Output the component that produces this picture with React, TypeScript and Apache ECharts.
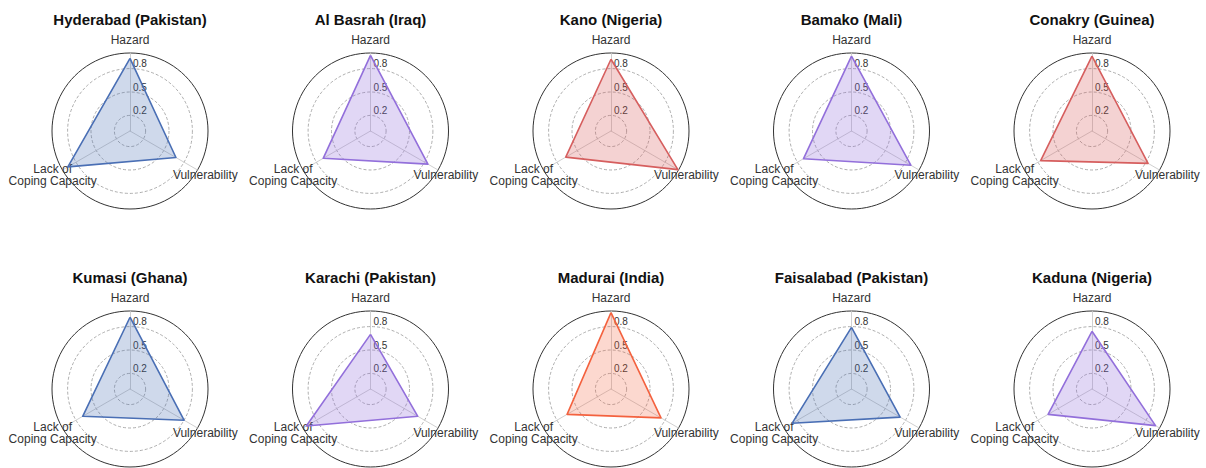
import React, { useEffect, useRef } from 'react';
import * as echarts from 'echarts';

const cities = [
  'Hyderabad (Pakistan)',
  'Al Basrah (Iraq)',
  'Kano (Nigeria)',
  'Bamako (Mali)',
  'Conakry (Guinea)',
  'Kumasi (Ghana)',
  'Karachi (Pakistan)',
  'Madurai (India)',
  'Faisalabad (Pakistan)',
  'Kaduna (Nigeria)',
];
const hazard = [0.93, 0.97, 0.92, 0.96, 0.96, 0.92, 0.7, 0.98, 0.79, 0.74];
const vulnerability = [0.68, 0.85, 0.99, 0.88, 0.83, 0.8, 0.7, 0.74, 0.72, 0.94];
const lackOfCoping = [0.92, 0.7, 0.67, 0.71, 0.76, 0.7, 0.95, 0.65, 0.88, 0.65];
const axisNames = ['Hazard', 'Vulnerability', 'Lack of\nCoping Capacity'];
const radialTicks = [0.2, 0.5, 0.8];
const cityTone = ['blue', 'purple', 'red', 'purple', 'red', 'blue', 'purple', 'tomato', 'blue', 'purple'];

const palette: Record<string, { line: string; fill: string }> = {
  blue: { line: '#4a6fb5', fill: 'rgba(74,111,181,0.38)' },
  purple: { line: '#9370db', fill: 'rgba(147,112,219,0.40)' },
  red: { line: '#d65f5f', fill: 'rgba(214,95,95,0.40)' },
  tomato: { line: '#f4623f', fill: 'rgba(244,98,63,0.36)' },
};

const FONT = '"Liberation Sans", Arial, Helvetica, sans-serif';
const COLS = 5;
const X0 = 130;
const DX = 240.5;
const Y0 = 131;
const DY = 258;
const R = 78;

export default function App() {
  const ref = useRef<HTMLDivElement>(null);
  useEffect(() => {
    document.body.style.margin = '0';
    const chart = echarts.init(ref.current!, null, { renderer: 'svg' });

    // grid circle colours for ticks 0, 0.1, ..., 1.0 (only 0.2, 0.5, 0.8 are drawn)
    const gridColors: string[] = [];
    for (let k = 0; k <= 10; k++) {
      const v = k / 10;
      gridColors.push(radialTicks.some((t) => Math.abs(t - v) < 1e-6) ? '#999999' : 'rgba(0,0,0,0)');
    }
    const tickFormatter = (v: number) => {
      const hit = radialTicks.find((t) => Math.abs(t - v) < 1e-6);
      return hit != null ? hit.toFixed(1) : '';
    };

    const radars: any[] = [];
    const outers: any[] = [];
    const titles: any[] = [];
    const series: any[] = [];

    cities.forEach((city, i) => {
      const cx = X0 + DX * (i % COLS);
      const cy = Y0 + DY * Math.floor(i / COLS);
      const tone = palette[cityTone[i]];

      radars.push({
        center: [cx, cy],
        radius: R,
        startAngle: 90,
        shape: 'circle',
        splitNumber: 10,
        indicator: [
          {
            name: axisNames[0],
            min: 0,
            max: 1,
            nameGap: 13,
            axisLabel: {
              show: true,
              formatter: tickFormatter,
              margin: -3,
              align: 'left',
              verticalAlign: 'bottom',
              fontSize: 10,
              color: '#333',
              fontFamily: FONT,
            },
          },
          {
            name: axisNames[2],
            min: 0,
            max: 1,
            nameGap: 9,
            nameTextStyle: { padding: [0, 4, 6, 0] },
          },
          { name: axisNames[1], min: 0, max: 1, nameGap: 9 },
        ],
        axisName: {
          color: '#333',
          fontSize: 12,
          fontFamily: FONT,
          align: 'center',
          verticalAlign: 'middle',
          lineHeight: 12,
        },
        axisLine: { lineStyle: { color: '#c4c4c4', width: 0.8 } },
        axisTick: { show: false },
        axisLabel: { show: false },
        splitLine: { lineStyle: { color: gridColors, type: [3, 2], width: 0.8 } },
        splitArea: { show: false },
      });

      outers.push({
        center: [cx, cy],
        radius: R,
        startAngle: 90,
        shape: 'circle',
        splitNumber: 1,
        indicator: [
          { name: '', min: 0, max: 1 },
          { name: '', min: 0, max: 1 },
          { name: '', min: 0, max: 1 },
        ],
        axisName: { show: false },
        axisLine: { show: false },
        axisTick: { show: false },
        axisLabel: { show: false },
        splitLine: { lineStyle: { color: ['rgba(0,0,0,0)', '#333'], width: 1 } },
        splitArea: { show: false },
      });

      titles.push({
        text: city,
        left: cx,
        top: cy - 119,
        textAlign: 'center',
        textVerticalAlign: 'top',
        padding: 0,
        textStyle: { fontSize: 15, fontWeight: 'bold', color: '#111', fontFamily: FONT },
      });

      series.push({
        type: 'radar',
        radarIndex: i,
        symbol: 'none',
        data: [
          {
            name: city,
            value: [hazard[i], lackOfCoping[i], vulnerability[i]],
          },
        ],
        lineStyle: { color: tone.line, width: 1.6 },
        itemStyle: { color: tone.line },
        areaStyle: { color: tone.fill },
        z: 3,
      });
    });

    chart.setOption({
      animation: false,
      title: titles,
      radar: [...radars, ...outers],
      series,
    });
    return () => chart.dispose();
  }, []);
  return <div ref={ref} style={{ width: 1206, height: 468 }} />;
}
